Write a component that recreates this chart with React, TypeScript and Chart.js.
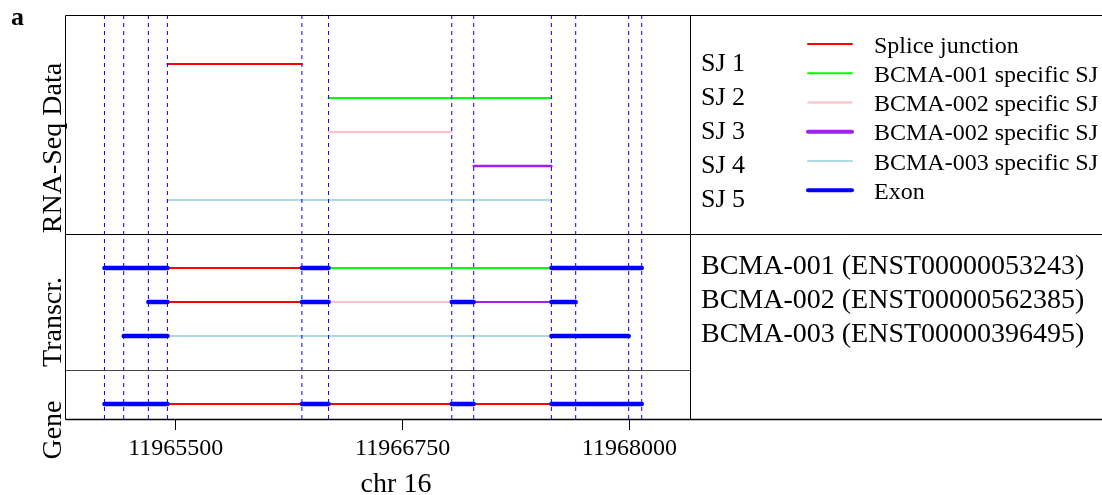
import React, { useEffect, useRef } from 'react';
import { Chart, registerables } from 'chart.js';

Chart.register(...registerables);

// ---------------- data ----------------
const xMin = 11964895;
const xMax = 11968334;
const xTickValues = [11965500, 11966750, 11968000];
const xTitle = 'chr 16';

// exon boundaries (dashed guide lines)
const boundaries = [
  11965107, 11965213, 11965349, 11965454, 11966195, 11966342,
  11967021, 11967142, 11967570, 11967704, 11967996, 11968068,
];

// RNA-Seq splice junctions
const sjNames = ['SJ 1', 'SJ 2', 'SJ 3', 'SJ 4', 'SJ 5'];
const sjStart = [11965454, 11966342, 11966342, 11967142, 11965454];
const sjEnd = [11966195, 11967570, 11967021, 11967570, 11967570];

// transcripts
const transcriptNames = [
  'BCMA-001 (ENST00000053243)',
  'BCMA-002 (ENST00000562385)',
  'BCMA-003 (ENST00000396495)',
];
const bcma001Exons = [[11965107, 11965454], [11966195, 11966342], [11967570, 11968068]];
const bcma002Exons = [[11965349, 11965454], [11966195, 11966342], [11967021, 11967142], [11967570, 11967704]];
const bcma003Exons = [[11965213, 11965454], [11967570, 11967996]];
// introns: [start, end, junction type index]
const bcma001Introns = [[11965454, 11966195, 0], [11966342, 11967570, 1]];
const bcma002Introns = [[11965454, 11966195, 0], [11966342, 11967021, 2], [11967142, 11967570, 3]];
const bcma003Introns = [[11965454, 11967570, 4]];

// gene model
const geneExons = [[11965107, 11965454], [11966195, 11966342], [11967021, 11967142], [11967570, 11968068]];
const geneIntrons = [[11965454, 11966195, 0], [11966342, 11967021, 0], [11967142, 11967570, 0]];

const legendLabels = [
  'Splice junction',
  'BCMA-001 specific SJ',
  'BCMA-002 specific SJ',
  'BCMA-002 specific SJ',
  'BCMA-003 specific SJ',
  'Exon',
];
const panelTitles = ['RNA-Seq Data', 'Transcr.', 'Gene'];

// ---------------- styles / layout ----------------
const SERIF = '"Liberation Serif", "Times New Roman", serif';
const RED = '#ff0000';
const GREEN = '#00ff00';
const PINK = '#ffc0cb';
const PURPLE = '#a020f0';
const LIGHTBLUE = '#add8e6';
const BLUE = '#0000ff';
const junctionColors = [RED, GREEN, PINK, PURPLE, LIGHTBLUE];
const legendColors = [RED, GREEN, PINK, PURPLE, LIGHTBLUE, BLUE];
const legendWidths = [2, 2, 2, 4, 2, 4];

const sjRows = [1, 2, 3, 4, 5];
const transcriptRows = [7, 8, 9];
const geneRow = 11;
const panelDividers = [6, 10];
const yMin = -0.44;
const yMax = 11.44;

function seg(x0: number, x1: number, y: number, color: string, width: number, order: number) {
  return {
    type: 'line' as const,
    data: [{ x: x0, y }, { x: x1, y }],
    borderColor: color,
    backgroundColor: color,
    borderWidth: width,
    borderCapStyle: 'round' as const,
    pointRadius: 0,
    pointHoverRadius: 0,
    fill: false,
    tension: 0,
    order,
  };
}

function buildDatasets() {
  const ds: any[] = [];
  sjNames.forEach((_, i) => {
    ds.push(seg(sjStart[i], sjEnd[i], sjRows[i], junctionColors[i], i === 3 ? 2.5 : 2, 1));
  });
  const exonSets = [bcma001Exons, bcma002Exons, bcma003Exons];
  const intronSets = [bcma001Introns, bcma002Introns, bcma003Introns];
  intronSets.forEach((set, t) => {
    set.forEach(([s, e, k]) => ds.push(seg(s, e, transcriptRows[t], junctionColors[k], 2, 1)));
  });
  exonSets.forEach((set, t) => {
    set.forEach(([s, e]) => ds.push(seg(s, e, transcriptRows[t], BLUE, 4.5, 0)));
  });
  geneIntrons.forEach(([s, e, k]) => ds.push(seg(s, e, geneRow, junctionColors[k], 2, 1)));
  geneExons.forEach(([s, e]) => ds.push(seg(s, e, geneRow, BLUE, 4.5, 0)));
  return ds;
}

const font = (size: number, bold = false) => `${bold ? 'bold ' : ''}${size}px ${SERIF}`;

const overlayPlugin = {
  id: 'overlay',
  afterDatasetsDraw(chart: any) {
    const { ctx, chartArea: a, scales } = chart;
    const x = scales.x;
    ctx.save();
    ctx.strokeStyle = BLUE;
    ctx.lineWidth = 1;
    ctx.setLineDash([4, 4]);
    boundaries.forEach((b) => {
      const px = x.getPixelForValue(b);
      ctx.beginPath();
      ctx.moveTo(px, a.top);
      ctx.lineTo(px, a.bottom);
      ctx.stroke();
    });
    ctx.restore();
  },
  afterDraw(chart: any) {
    const { ctx, chartArea: a, scales, width: W } = chart;
    const y = scales.y;
    ctx.save();
    ctx.setLineDash([]);
    const hline = (yy: number, x0: number, x1: number, col = '#000', lw = 1) => {
      ctx.strokeStyle = col;
      ctx.lineWidth = lw;
      ctx.beginPath();
      ctx.moveTo(x0, yy);
      ctx.lineTo(x1, yy);
      ctx.stroke();
    };
    const vline = (xx: number, y0: number, y1: number) => {
      ctx.strokeStyle = '#000';
      ctx.lineWidth = 1;
      ctx.beginPath();
      ctx.moveTo(xx, y0);
      ctx.lineTo(xx, y1);
      ctx.stroke();
    };
    const top = Math.round(a.top) + 0.5;
    const bottom = Math.round(a.bottom) + 0.5;
    const d1 = Math.round(y.getPixelForValue(panelDividers[0])) + 0.5;
    const d2 = Math.round(y.getPixelForValue(panelDividers[1])) + 0.5;
    hline(top, a.left - 0.5, W);
    hline(d1, a.left - 0.5, W);
    hline(d2, a.left, a.right, '#444', 1);
    hline(bottom, a.left - 0.5, W, '#000', 1.5);
    vline(Math.round(a.left) - 0.5, top, bottom);
    vline(Math.round(a.right) + 0.5, top, bottom);

    ctx.fillStyle = '#000';
    ctx.font = font(26, true);
    ctx.textAlign = 'left';
    ctx.textBaseline = 'alphabetic';
    ctx.fillText('a', 11, 25);

    const titleCenters = [148, 322, 430];
    panelTitles.forEach((t, i) => {
      ctx.save();
      ctx.translate(61, titleCenters[i]);
      ctx.rotate(-Math.PI / 2);
      ctx.font = font(28);
      ctx.textAlign = 'center';
      ctx.fillText(t, 0, 0);
      ctx.restore();
    });

    ctx.font = font(28);
    ctx.textAlign = 'center';
    ctx.fillText(xTitle, 396, 492);

    ctx.textAlign = 'left';
    ctx.font = font(26);
    sjNames.forEach((n, i) => {
      ctx.fillText(n, 701, y.getPixelForValue(sjRows[i]) + 7);
    });

    const legTop = 44;
    const legStep = 29.25;
    legendLabels.forEach((l, i) => {
      const ly = legTop + i * legStep;
      ctx.strokeStyle = legendColors[i];
      ctx.lineWidth = legendWidths[i];
      ctx.lineCap = 'round';
      ctx.beginPath();
      ctx.moveTo(808, ly);
      ctx.lineTo(852, ly);
      ctx.stroke();
      ctx.fillStyle = '#000';
      ctx.font = font(24);
      ctx.fillText(l, 874, ly + 8.5);
    });

    ctx.font = font(28);
    transcriptNames.forEach((n, i) => {
      ctx.fillText(n, 701, y.getPixelForValue(transcriptRows[i]) + 6);
    });
    ctx.restore();
  },
};

export default function App() {
  const ref = useRef<HTMLCanvasElement>(null);
  useEffect(() => {
    document.body.style.margin = '0';
    Chart.defaults.font.family = SERIF;
    const chart = new Chart(ref.current as HTMLCanvasElement, {
      type: 'line',
      data: { datasets: buildDatasets() },
      options: {
        animation: false,
        responsive: false,
        maintainAspectRatio: false,
        devicePixelRatio: 1,
        events: [],
        layout: { padding: { left: 66, right: 412, top: 15, bottom: 0 } },
        plugins: { legend: { display: false }, tooltip: { enabled: false } },
        scales: {
          x: {
            type: 'linear',
            position: 'bottom',
            min: xMin,
            max: xMax,
            afterBuildTicks: (s: any) => {
              s.ticks = xTickValues.map((v) => ({ value: v }));
            },
            afterFit: (s: any) => {
              s.height = 76;
            },
            ticks: {
              color: '#000',
              font: { family: SERIF, size: 24 },
              padding: 4,
              maxRotation: 0,
              autoSkip: false,
              callback: (v: any) => String(v),
            },
            grid: {
              display: true,
              drawOnChartArea: false,
              drawTicks: true,
              tickLength: 11,
              color: '#000',
              tickColor: '#000',
              tickWidth: 1,
            },
            border: { display: false },
          },
          y: {
            type: 'linear',
            display: false,
            min: yMin,
            max: yMax,
            reverse: true,
          },
        },
      },
      plugins: [overlayPlugin],
    } as any);
    return () => chart.destroy();
  }, []);
  return (
    <div style={{ width: 1102, height: 495 }}>
      <canvas ref={ref} width={1102} height={495} style={{ display: 'block' }} />
    </div>
  );
}
